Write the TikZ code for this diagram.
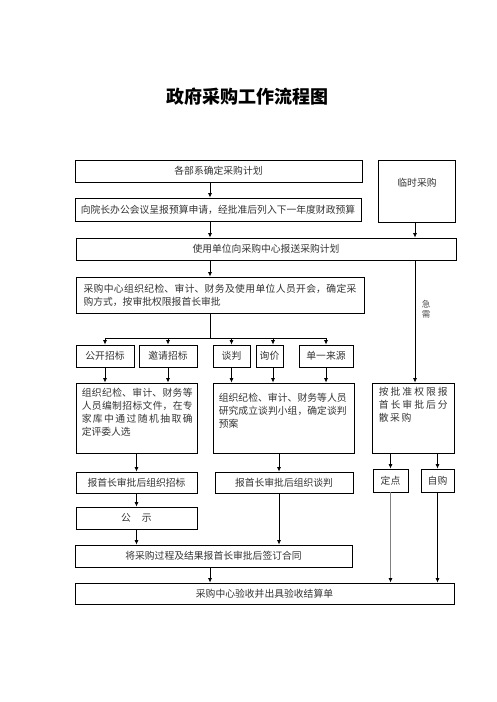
\documentclass[tikz,border=0pt]{standalone}
\usepackage{fontspec}
\setmainfont{Noto Sans CJK SC}
\usepackage{tikz}
\usetikzlibrary{arrows.meta, calc, positioning}
\XeTeXlinebreaklocale "zh"
\XeTeXlinebreakskip=0pt plus 3pt

\begin{document}
\begin{tikzpicture}[x=1pt, y=-1pt, >={Latex[length=4.5pt,width=4pt]},
    box/.style={draw, line width=0.9pt, inner sep=0pt, text=black!80,
      font=\fontsize{9.8}{13}\selectfont},
    txt/.style={inner sep=0pt, anchor=north west, align=justify, text=black!80,
      font=\fontsize{9.8}{13}\selectfont},
    arr/.style={->, line width=0.7pt},
    line/.style={line width=0.7pt}]

    % 定义
    \def\xM{210} % 主干竖线
    \def\xU{415} % 临时采购竖线
    \def\xQ{273} % 询价
    \def\xT{279} % 谈判一侧
    \def\yB{338} % 分支横线

    \useasboundingbox (0,0) rectangle (496,702);
    \coordinate (cM) at (\xM,0);
    \coordinate (cU) at (\xU,0);
    \coordinate (cQ) at (\xQ,0);
    \coordinate (cT) at (\xT,0);
    \coordinate (cB) at (0,\yB);

    % 标题
    \node[font=\fontsize{18}{20}\selectfont\bfseries] (title) at (247,97) {政府采购工作流程图};

    % 上部
    \node[box, minimum width=287pt, minimum height=22pt] (plan) at (218.5,171) {各部系确定采购计划};
    \node[box, minimum width=286pt, minimum height=23pt] (budget) at (218,209.5)
      {向院长办公会议呈报预算申请，经批准后列入下一年度财政预算};
    \node[box, minimum width=77pt, minimum height=62pt] (temp) at (416.5,191) {};
    \node[txt, anchor=center] (tempt) at (417,183) {临时采购};
    \node[box, minimum width=380pt, minimum height=22pt] (submit) at (266,249)
      {使用单位向采购中心报送采购计划};
    \node[box, text width=273pt, align=justify, minimum width=288pt, minimum height=36pt] (meet) at (220,295)
      {采购中心组织纪检、审计、财务及使用单位人员开会，确定采\linebreak 购方式，按审批权限报首长审批};

    % 采购方式
    \node[box, minimum width=58pt, minimum height=22pt] (m1) at (105,356) {公开招标};
    \node[box, minimum width=58pt, minimum height=22pt] (m2) at (168,356) {邀请招标};
    \node[box, minimum width=37pt, minimum height=22pt] (m3) at (231.5,356) {谈判};
    \node[box, minimum width=27pt, minimum height=22pt] (m4) at (269.5,356) {询价};
    \node[box, minimum width=54pt, minimum height=22pt] (m5) at (326,356) {单一来源};

    % 中部
    \node[box, minimum width=121pt, minimum height=70pt] (bidL) at (136.5,418) {};
    \node[txt, text width=111pt] (bidLt) at ([shift={(6,5.5)}]bidL.north west)
      {组织纪检、审计、财务等\linebreak 人员编制招标文件，在专\linebreak 家库中通过随机抽取确\linebreak 定评委人选};
    \node[box, minimum width=141pt, minimum height=70pt] (negR) at (283.5,418) {};
    \node[txt, text width=128pt] (negRt) at ([shift={(6,10.5)}]negR.north west)
      {组织纪检、审计、财务等人员\linebreak 研究成立谈判小组，确定谈判\linebreak 预案};
    \node[box, minimum width=82pt, minimum height=70pt] (auth) at (413,418) {};
    \node[txt, text width=69pt] (autht) at ([shift={(7,4.5)}]auth.north west)
      {按批准权限报\linebreak 首长审批后分\linebreak 散\hspace{1.7pt}采\hspace{1.7pt}购};

    % 下部
    \node[box, minimum width=121pt, minimum height=21pt] (rL) at (136.5,482.5) {报首长审批后组织招标};
    \node[box, minimum width=138pt, minimum height=21pt] (rR) at (284,482.5) {报首长审批后组织谈判};
    \node[box, minimum width=35pt, minimum height=23pt] (fix) at (390.5,480.5) {定点};
    \node[box, minimum width=33pt, minimum height=23pt] (self) at (437.5,480.5) {自购};
    \node[box, minimum width=121pt, minimum height=22pt] (pub) at (136.5,518) {公\hspace{11pt}示};
    \node[box, minimum width=277pt, minimum height=22pt] (sign) at (213.5,556)
      {将采购过程及结果报首长审批后签订合同};
    \node[box, minimum width=379pt, minimum height=21pt] (accept) at (264.5,593.5)
      {采购中心验收并出具验收结算单};

    % 连线
    \draw[arr] (plan.south -| cM) -- (budget.north -| cM);
    \draw[arr] (budget.south -| cM) -- (submit.north -| cM);
    \draw[arr] (temp.south -| cU) -- (submit.north -| cU);
    \draw[arr] (submit.south -| cM) -- (meet.north -| cM);
    \draw[arr] (submit.south -| cU) -- node[pos=0.4, right=6.5pt, inner sep=0pt, align=center,
      text=black!70, font=\fontsize{8.5}{10}\selectfont] (urgent) {急\\需} (auth.north -| cU);

    % 分支
    \draw[line] (meet.south -| cM) -- (cM |- cB);
    \draw[line] (m1.north |- cB) -- (m5.north |- cB);
    \foreach \m in {m1,m2,m3,m5}
      \draw[arr] (\m.north |- cB) -- (\m.north);
    \draw[arr] (cQ |- cB) -- (m4.north -| cQ);

    \draw[arr] (m1.south) -- (m1.south |- bidL.north);
    \draw[arr] (m2.south) -- (m2.south |- bidL.north);
    \draw[arr] (m3.south) -- (m3.south |- negR.north);
    \draw[arr] (m4.south -| cQ) -- (negR.north -| cQ);
    \draw[arr] (m5.south) -- (m5.south |- negR.north);

    \draw[arr] (bidL.south) -- (rL.north);
    \draw[arr] (negR.south -| cT) -- (rR.north -| cT);
    \draw[arr] (auth.south -| fix.north) -- (fix.north);
    \draw[arr] (auth.south -| self.north) -- (self.north);

    \draw[arr] (rL.south) -- (pub.north);
    \draw[arr] (pub.south) -- (pub.south |- sign.north);
    \draw[arr] (rR.south -| cT) -- (sign.north -| cT);
    \draw[arr] (sign.south -| cM) -- (accept.north -| cM);
    \draw[-{Latex[length=4.5pt,width=4pt,black]}, gray, line width=1.8pt] (fix.south) -- (fix.south |- accept.north);
    \draw[arr] (self.south) -- (self.south |- accept.north);

\end{tikzpicture}
\end{document}
